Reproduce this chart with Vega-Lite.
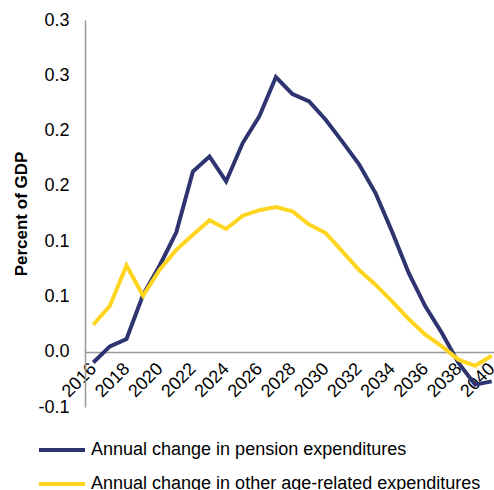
{
  "$schema": "https://vega.github.io/schema/vega-lite/v6.json",
  "width": 415,
  "height": 387,
  "autosize": {"type": "none"},
  "padding": {"left": 85, "top": 20, "right": 0, "bottom": 83},
  "background": "white",
  "config": {
    "font": "Liberation Sans",
    "view": {"stroke": null}
  },
  "data": {
    "values": [
      {"year": 2016, "series": "Annual change in pension expenditures", "value": -0.0097},
      {"year": 2017, "series": "Annual change in pension expenditures", "value": 0.0048},
      {"year": 2018, "series": "Annual change in pension expenditures", "value": 0.0115},
      {"year": 2019, "series": "Annual change in pension expenditures", "value": 0.0515},
      {"year": 2020, "series": "Annual change in pension expenditures", "value": 0.078},
      {"year": 2021, "series": "Annual change in pension expenditures", "value": 0.108},
      {"year": 2022, "series": "Annual change in pension expenditures", "value": 0.163},
      {"year": 2023, "series": "Annual change in pension expenditures", "value": 0.1766},
      {"year": 2024, "series": "Annual change in pension expenditures", "value": 0.154},
      {"year": 2025, "series": "Annual change in pension expenditures", "value": 0.1887},
      {"year": 2026, "series": "Annual change in pension expenditures", "value": 0.2128},
      {"year": 2027, "series": "Annual change in pension expenditures", "value": 0.2484},
      {"year": 2028, "series": "Annual change in pension expenditures", "value": 0.233},
      {"year": 2029, "series": "Annual change in pension expenditures", "value": 0.2263},
      {"year": 2030, "series": "Annual change in pension expenditures", "value": 0.2098},
      {"year": 2031, "series": "Annual change in pension expenditures", "value": 0.19},
      {"year": 2032, "series": "Annual change in pension expenditures", "value": 0.1697},
      {"year": 2033, "series": "Annual change in pension expenditures", "value": 0.1435},
      {"year": 2034, "series": "Annual change in pension expenditures", "value": 0.1085},
      {"year": 2035, "series": "Annual change in pension expenditures", "value": 0.0712},
      {"year": 2036, "series": "Annual change in pension expenditures", "value": 0.041},
      {"year": 2037, "series": "Annual change in pension expenditures", "value": 0.0169},
      {"year": 2038, "series": "Annual change in pension expenditures", "value": -0.0102},
      {"year": 2039, "series": "Annual change in pension expenditures", "value": -0.0298},
      {"year": 2040, "series": "Annual change in pension expenditures", "value": -0.0268},
      {"year": 2016, "series": "Annual change in other age-related expenditures", "value": 0.0244},
      {"year": 2017, "series": "Annual change in other age-related expenditures", "value": 0.0416},
      {"year": 2018, "series": "Annual change in other age-related expenditures", "value": 0.078},
      {"year": 2019, "series": "Annual change in other age-related expenditures", "value": 0.0506},
      {"year": 2020, "series": "Annual change in other age-related expenditures", "value": 0.0741},
      {"year": 2021, "series": "Annual change in other age-related expenditures", "value": 0.0922},
      {"year": 2022, "series": "Annual change in other age-related expenditures", "value": 0.1058},
      {"year": 2023, "series": "Annual change in other age-related expenditures", "value": 0.119},
      {"year": 2024, "series": "Annual change in other age-related expenditures", "value": 0.111},
      {"year": 2025, "series": "Annual change in other age-related expenditures", "value": 0.123},
      {"year": 2026, "series": "Annual change in other age-related expenditures", "value": 0.128},
      {"year": 2027, "series": "Annual change in other age-related expenditures", "value": 0.1308},
      {"year": 2028, "series": "Annual change in other age-related expenditures", "value": 0.1269},
      {"year": 2029, "series": "Annual change in other age-related expenditures", "value": 0.115},
      {"year": 2030, "series": "Annual change in other age-related expenditures", "value": 0.1073},
      {"year": 2031, "series": "Annual change in other age-related expenditures", "value": 0.0907},
      {"year": 2032, "series": "Annual change in other age-related expenditures", "value": 0.0741},
      {"year": 2033, "series": "Annual change in other age-related expenditures", "value": 0.0606},
      {"year": 2034, "series": "Annual change in other age-related expenditures", "value": 0.0455},
      {"year": 2035, "series": "Annual change in other age-related expenditures", "value": 0.0296},
      {"year": 2036, "series": "Annual change in other age-related expenditures", "value": 0.0154},
      {"year": 2037, "series": "Annual change in other age-related expenditures", "value": 0.0048},
      {"year": 2038, "series": "Annual change in other age-related expenditures", "value": -0.0072},
      {"year": 2039, "series": "Annual change in other age-related expenditures", "value": -0.0127},
      {"year": 2040, "series": "Annual change in other age-related expenditures", "value": -0.0036}
    ]
  },
  "mark": {"type": "line", "strokeWidth": 4, "strokeJoin": "miter", "clip": false},
  "encoding": {
    "x": {
      "field": "year",
      "type": "quantitative",
      "scale": {"domain": [2015.5, 2040.5], "nice": false, "zero": false},
      "axis": {
        "title": null,
        "values": [2016, 2018, 2020, 2022, 2024, 2026, 2028, 2030, 2032, 2034, 2036, 2038, 2040],
        "format": "d",
        "offset": -55,
        "grid": false,
        "ticks": false,
        "domainColor": "#999999",
        "domainWidth": 1.5,
        "labelAngle": -45,
        "labelAlign": "right",
        "labelBaseline": "middle",
        "labelFontSize": 18,
        "labelColor": "#000000",
        "labelPadding": 14,
        "labelOverlap": false,
        "labelFlush": false,
        "labelBound": false
      }
    },
    "y": {
      "field": "value",
      "type": "quantitative",
      "scale": {"domain": [-0.05, 0.3], "nice": false, "zero": false},
      "axis": {
        "title": "Percent of GDP",
        "titleFontSize": 17,
        "titleFontWeight": "bold",
        "titleColor": "#000000",
        "titlePadding": 7,
        "values": [-0.05, 0, 0.05, 0.1, 0.15, 0.2, 0.25, 0.3],
        "labelExpr": "datum.value < -0.01 ? '-0.1' : datum.value < 0.01 ? '0.0' : datum.value < 0.11 ? '0.1' : datum.value < 0.21 ? '0.2' : '0.3'",
        "grid": false,
        "ticks": false,
        "domainColor": "#999999",
        "domainWidth": 1.5,
        "labelFontSize": 18,
        "labelColor": "#000000",
        "labelPadding": 16
      }
    },
    "color": {
      "field": "series",
      "type": "nominal",
      "sort": ["Annual change in pension expenditures", "Annual change in other age-related expenditures"],
      "scale": {
        "domain": ["Annual change in pension expenditures", "Annual change in other age-related expenditures"],
        "range": ["#2e3470", "#ffd51f"]
      },
      "legend": {
        "title": null,
        "orient": "none",
        "legendX": -48,
        "legendY": 405,
        "direction": "vertical",
        "symbolType": "stroke",
        "symbolSize": 2116,
        "symbolStrokeWidth": 4,
        "labelFontSize": 18,
        "labelColor": "#000000",
        "labelOffset": 4,
        "rowPadding": -12,
        "labelLimit": 500
      }
    }
  }
}
